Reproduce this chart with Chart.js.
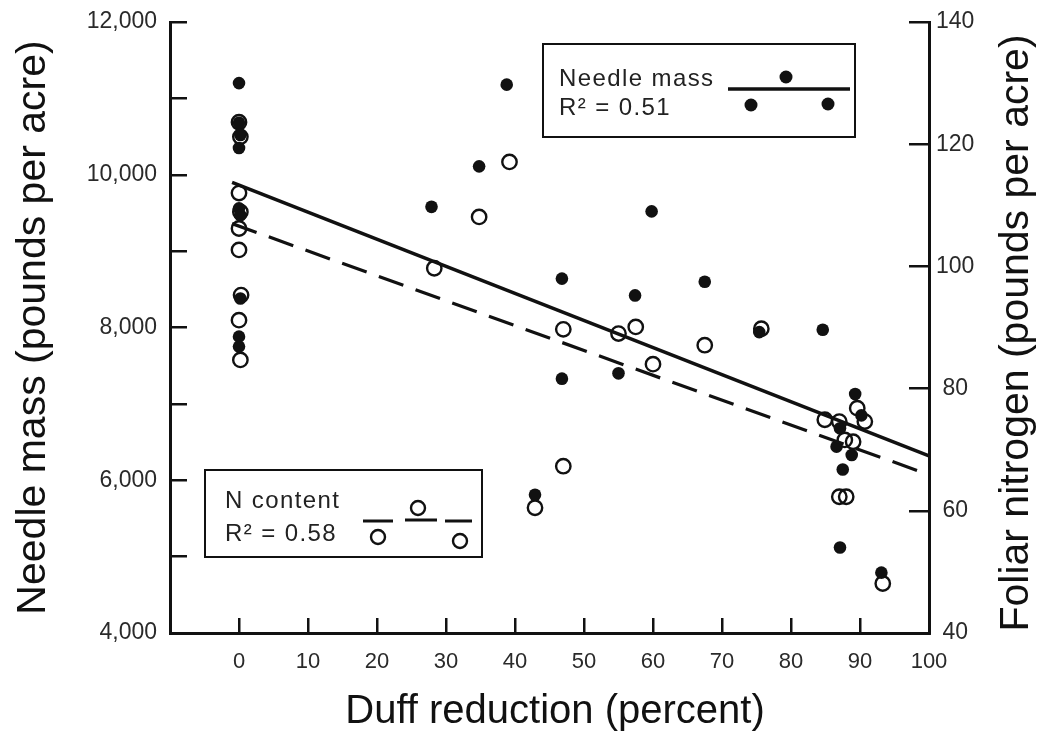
<!DOCTYPE html>
<html>
<head>
<meta charset="utf-8">
<script src="https://cdn.jsdelivr.net/npm/chart.js@4.4.1/dist/chart.umd.min.js"></script>
<style>
  html, body { margin: 0; padding: 0; background: #ffffff; }
  #wrap { width: 1038px; height: 735px; position: relative; }
</style>
</head>
<body>
<div id="wrap"><canvas id="c" width="1038" height="735"></canvas></div>
<script>
// ---- Data ----
// Needle mass (filled dots, left axis, pounds per acre)
const needleDuff = [0, 0, 0.2, 0, 0, 0.2, 0.2, 0, 0,
  27.9, 34.8, 38.8, 42.9, 46.8, 46.8, 55.0, 57.4, 59.8, 67.5, 75.4, 84.6,
  86.6, 87.1, 87.1, 87.5, 88.8, 89.3, 90.2, 93.1];
const needleMass = [11200, 10680, 10520, 10350, 9560, 9470, 8380, 7880, 7750,
  9580, 10110, 11180, 5810, 8640, 7330, 7400, 8420, 9520, 8600, 7940, 7970,
  6440, 6680, 5120, 6140, 6330, 7130, 6850, 4790];

// N content (open circles, right axis, pounds per acre)
const nDuff = [0, 0.2, 0, 0.2, 0, 0, 0.3, 0, 0.2,
  28.3, 34.8, 39.2, 42.9, 47.0, 47.0, 55.0, 57.5, 60.0, 67.5, 75.7,
  84.9, 87.0, 87.8, 89.0, 89.6, 90.7, 87.0, 88.0, 93.3];
const nContent = [123.6, 121.2, 112.0, 108.9, 106.2, 102.7, 95.3, 91.2, 84.7,
  99.7, 108.1, 117.1, 60.5, 89.7, 67.3, 89.0, 90.1, 84.0, 87.1, 89.8,
  74.9, 74.6, 71.6, 71.3, 76.8, 74.6, 62.3, 62.3, 48.1];

// Regression lines (end points)
const fitNeedleX = [-1, 100];
const fitNeedleY = [9900, 6320];
const fitNX = [-1, 100];
const fitNY = [107.0, 65.9];

// Axis ranges / ticks
const xRange = [-10, 100];
const xStep = 10;
const leftRange = [4000, 12000];
const leftStep = 1000;
const rightRange = [40, 140];
const rightStep = 20;

// Legend text
const legendNeedle = ['Needle mass', 'R\u00B2 = 0.51'];
const legendN = ['N content', 'R\u00B2 = 0.58'];
const xTitle = 'Duff reduction (percent)';
const leftTitle = 'Needle mass (pounds per acre)';
const rightTitle = 'Foliar nitrogen (pounds per acre)';

// ---- Build chart ----
const FONT = "'Liberation Sans', Arial, Helvetica, sans-serif";
const INK = '#111111';
const toPts = (xs, ys) => xs.map((x, i) => ({ x: x, y: ys[i] }));
const zeroPad = s => { s.paddingTop = 0; s.paddingBottom = 0; s.paddingLeft = 0; s.paddingRight = 0; };

const boxesPlugin = {
  id: 'boxes',
  afterDraw(chart) {
    const ctx = chart.ctx;
    ctx.save();
    // X axis title
    ctx.save();
    ctx.font = '40px ' + FONT;
    ctx.fillStyle = INK;
    ctx.textAlign = 'center';
    ctx.textBaseline = 'middle';
    ctx.fillText(xTitle, 555, 712);
    ctx.restore();
    // Right axis title (reads bottom-to-top)
    ctx.save();
    ctx.translate(1017, 333);
    ctx.rotate(-Math.PI / 2);
    ctx.font = '41px ' + FONT;
    ctx.fillStyle = INK;
    ctx.textAlign = 'center';
    ctx.textBaseline = 'middle';
    ctx.fillText(rightTitle, 0, 0);
    ctx.restore();

    // Needle mass legend box
    ctx.strokeStyle = INK;
    ctx.lineWidth = 2;
    ctx.strokeRect(543, 44, 312, 93);
    ctx.font = '24px ' + FONT;
    try { ctx.letterSpacing = '1.4px'; } catch (e) {}
    ctx.textAlign = 'left';
    ctx.textBaseline = 'alphabetic';
    ctx.fillStyle = '#222';
    ctx.fillText(legendNeedle[0], 559, 86);
    ctx.fillText(legendNeedle[1], 559, 115);
    ctx.lineWidth = 3.5;
    ctx.beginPath(); ctx.moveTo(728, 89); ctx.lineTo(850, 89); ctx.stroke();
    ctx.fillStyle = INK;
    [[786, 77], [751, 105], [828, 104]].forEach(p => {
      ctx.beginPath(); ctx.arc(p[0], p[1], 6.5, 0, Math.PI * 2); ctx.fill();
    });

    // N content legend box
    ctx.lineWidth = 2;
    ctx.strokeRect(205, 470, 277, 87);
    ctx.fillStyle = '#222';
    ctx.fillText(legendN[0], 225, 508);
    ctx.fillText(legendN[1], 225, 541);
    ctx.lineWidth = 3;
    [[363, 393, 521], [405, 437, 520], [445, 472, 521]].forEach(s => {
      ctx.beginPath(); ctx.moveTo(s[0], s[2]); ctx.lineTo(s[1], s[2]); ctx.stroke();
    });
    ctx.lineWidth = 2.4;
    [[378, 537], [418, 508], [460, 541]].forEach(p => {
      ctx.beginPath(); ctx.arc(p[0], p[1], 7, 0, Math.PI * 2); ctx.stroke();
    });
    ctx.restore();
  }
};

new Chart(document.getElementById('c'), {
  type: 'scatter',
  data: {
    datasets: [
      {
        label: 'Needle mass fit',
        data: toPts(fitNeedleX, fitNeedleY),
        yAxisID: 'y',
        showLine: true,
        borderColor: INK,
        borderWidth: 3.6,
        pointRadius: 0,
        fill: false
      },
      {
        label: 'N content fit',
        data: toPts(fitNX, fitNY),
        yAxisID: 'y2',
        showLine: true,
        borderColor: INK,
        borderWidth: 3.2,
        borderDash: [26, 13],
        pointRadius: 0,
        fill: false
      },
      {
        label: 'Needle mass',
        data: toPts(needleDuff, needleMass),
        yAxisID: 'y',
        pointStyle: 'circle',
        pointRadius: 6.3,
        pointHoverRadius: 6.3,
        backgroundColor: INK,
        borderWidth: 0,
        borderColor: INK
      },
      {
        label: 'N content',
        data: toPts(nDuff, nContent),
        yAxisID: 'y2',
        pointStyle: 'circle',
        pointRadius: 7.2,
        pointHoverRadius: 7.2,
        backgroundColor: 'rgba(0,0,0,0)',
        borderWidth: 2.4,
        borderColor: INK
      }
    ]
  },
  options: {
    responsive: false,
    animation: false,
    events: [],
    layout: { padding: { top: 22, left: 0, right: 0, bottom: 0 } },
    plugins: { legend: { display: false }, tooltip: { enabled: false } },
    scales: {
      x: {
        type: 'linear',
        position: 'bottom',
        min: xRange[0], max: xRange[1],
        afterFit(s) { s.height = 102; zeroPad(s); },
        ticks: {
          stepSize: xStep,
          padding: 31,
          color: '#2a2a2a',
          font: { family: FONT, size: 22 },
          maxRotation: 0,
          autoSkip: false,
          callback: v => (v < 0 ? '' : String(v))
        },
        grid: {
          drawOnChartArea: false,
          drawTicks: true,
          tickLength: -15,
          lineWidth: 2.5,
          color: ctx => (ctx.tick && ctx.tick.value < 0 ? 'rgba(0,0,0,0)' : INK)
        },
        border: { display: true, color: INK, width: 3 },
        title: { display: false }
      },
      y: {
        type: 'linear',
        position: 'left',
        min: leftRange[0], max: leftRange[1],
        afterFit(s) { s.width = 170; zeroPad(s); },
        ticks: {
          stepSize: leftStep,
          padding: 30,
          color: '#2a2a2a',
          font: { family: FONT, size: 23 },
          autoSkip: false,
          callback: v => (v % 2000 === 0 ? v.toLocaleString('en-US') : '')
        },
        grid: {
          drawOnChartArea: false,
          drawTicks: true,
          tickLength: -17,
          lineWidth: 2.5,
          color: INK
        },
        border: { display: true, color: INK, width: 3 },
        title: {
          display: true,
          text: leftTitle,
          color: INK,
          font: { family: FONT, size: 41 },
          padding: { top: 9, bottom: 0 }
        }
      },
      y2: {
        type: 'linear',
        position: 'right',
        min: rightRange[0], max: rightRange[1],
        afterFit(s) { s.width = 109; zeroPad(s); },
        ticks: {
          stepSize: rightStep,
          padding: 27,
          crossAlign: 'center',
          color: '#2a2a2a',
          font: { family: FONT, size: 23 },
          autoSkip: false
        },
        grid: {
          drawOnChartArea: false,
          drawTicks: true,
          tickLength: -20,
          lineWidth: 2.5,
          color: INK
        },
        border: { display: true, color: INK, width: 3 },
        title: { display: false }
      }
    }
  },
  plugins: [boxesPlugin]
});
</script>
</body>
</html>
